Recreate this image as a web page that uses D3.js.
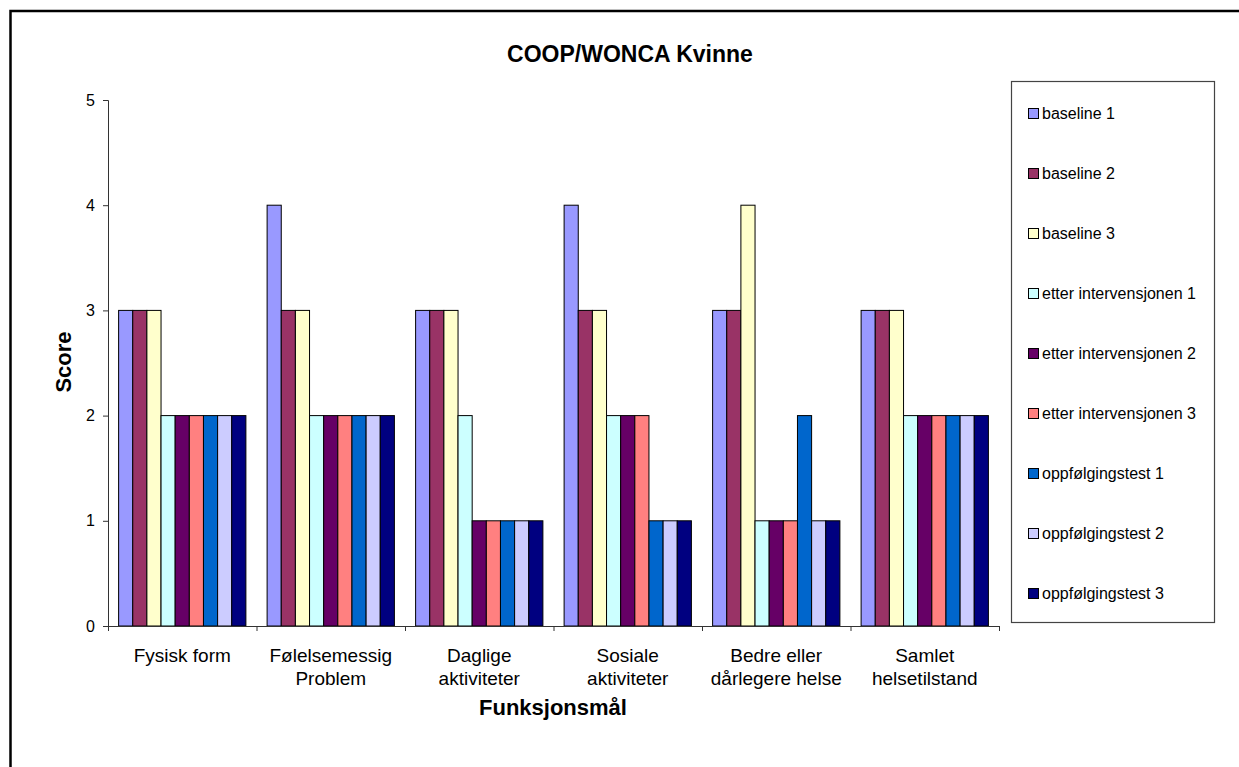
<!DOCTYPE html>
<html>
<head>
<meta charset="utf-8">
<script src="https://cdn.jsdelivr.net/npm/d3@7"></script>
<style>
  body { margin: 0; background: #fff; }
  text { font-family: Arial, "Liberation Sans", sans-serif; fill: #000; }
</style>
</head>
<body>
<svg width="1239" height="767"></svg>
<script>
// categories (x axis), split on two lines where the chart does
var categories = [
  ["Fysisk form"],
  ["Følelsemessig", "Problem"],
  ["Daglige", "aktiviteter"],
  ["Sosiale", "aktiviteter"],
  ["Bedre eller", "dårlegere helse"],
  ["Samlet", "helsetilstand"]
];

var seriesNames = [
  "baseline 1", "baseline 2", "baseline 3",
  "etter intervensjonen 1", "etter intervensjonen 2", "etter intervensjonen 3",
  "oppfølgingstest 1", "oppfølgingstest 2", "oppfølgingstest 3"
];

// one array per series, one value per category
var baseline1 = [3, 4, 3, 4, 3, 3];
var baseline2 = [3, 3, 3, 3, 3, 3];
var baseline3 = [3, 3, 3, 3, 4, 3];
var etter1    = [2, 2, 2, 2, 1, 2];
var etter2    = [2, 2, 1, 2, 1, 2];
var etter3    = [2, 2, 1, 2, 1, 2];
var oppf1     = [2, 2, 1, 1, 2, 2];
var oppf2     = [2, 2, 1, 1, 1, 2];
var oppf3     = [2, 2, 1, 1, 1, 2];
var seriesValues = [baseline1, baseline2, baseline3, etter1, etter2, etter3, oppf1, oppf2, oppf3];

var colors = ["#9999FF", "#993366", "#FFFFCC", "#CCFFFF", "#660066", "#FF8080", "#0066CC", "#CCCCFF", "#000080"];
var yTicks = [0, 1, 2, 3, 4, 5];

var svg = d3.select("svg");

// outer chart frame (runs off the right and bottom of the picture)
svg.append("rect")
  .attr("x", 10.5).attr("y", 11)
  .attr("width", 1300).attr("height", 800)
  .attr("fill", "none").attr("stroke", "#000").attr("stroke-width", 2.5);

var plot = {left: 108, right: 999, top: 100, bottom: 626};

var x0 = d3.scaleBand()
  .domain(d3.range(categories.length))
  .range([plot.left, plot.right]);

// excel style gap: 150% of a bar, half on each side of the group
var x1 = d3.scaleBand()
  .domain(d3.range(seriesNames.length))
  .range([0, x0.bandwidth()])
  .paddingInner(0)
  .paddingOuter(0.75);

var y = d3.scaleLinear().domain([0, 5]).range([plot.bottom, plot.top]);

// bars
var groups = svg.append("g").selectAll("g")
  .data(categories)
  .join("g")
  .attr("transform", function(d, i) { return "translate(" + x0(i) + ",0)"; });

groups.selectAll("rect")
  .data(function(d, i) { return seriesValues.map(function(s, k) { return {k: k, v: s[i]}; }); })
  .join("rect")
  .attr("x", function(d) { return x1(d.k); })
  .attr("y", function(d) { return y(d.v); })
  .attr("width", x1.bandwidth())
  .attr("height", function(d) { return y(0) - y(d.v); })
  .attr("fill", function(d) { return colors[d.k]; })
  .attr("stroke", "#000")
  .attr("stroke-width", 1);

// y axis
var yAxis = svg.append("g")
  .attr("transform", "translate(" + plot.left + ",0)")
  .call(d3.axisLeft(y).tickValues(yTicks).tickFormat(d3.format("d")).tickSize(5).tickPadding(8));
yAxis.selectAll("text").style("font-size", "16px").attr("font-family", "Arial, 'Liberation Sans', sans-serif");
yAxis.selectAll("line, path").attr("stroke", "#333");

// x axis, ticks sit between categories
var xEdges = d3.scaleLinear().domain([0, categories.length]).range([plot.left, plot.right]);
var xAxis = svg.append("g")
  .attr("transform", "translate(0," + plot.bottom + ")")
  .call(d3.axisBottom(xEdges).tickValues(d3.range(categories.length + 1)).tickFormat("").tickSize(5).tickSizeOuter(5));
xAxis.selectAll("line, path").attr("stroke", "#333");

// category labels
svg.append("g").selectAll("text")
  .data(categories)
  .join("text")
  .attr("text-anchor", "middle")
  .style("font-size", "19px")
  .attr("x", function(d, i) { return x0(i) + x0.bandwidth() / 2; })
  .attr("y", 662)
  .selectAll("tspan")
  .data(function(d) { return d; })
  .join("tspan")
  .attr("x", function() { return d3.select(this.parentNode).attr("x"); })
  .attr("dy", function(d, i) { return i === 0 ? 0 : 23; })
  .text(function(d) { return d; });

// titles
svg.append("text")
  .attr("x", 630).attr("y", 62)
  .attr("text-anchor", "middle")
  .style("font-size", "23px").style("font-weight", "bold")
  .text("COOP/WONCA Kvinne");

svg.append("text")
  .attr("x", 553).attr("y", 715)
  .attr("text-anchor", "middle")
  .style("font-size", "22px").style("font-weight", "bold")
  .text("Funksjonsmål");

svg.append("text")
  .attr("transform", "translate(71,362) rotate(-90)")
  .attr("text-anchor", "middle")
  .style("font-size", "22px").style("font-weight", "bold")
  .text("Score");

// legend
var legend = svg.append("g");
legend.append("rect")
  .attr("x", 1011.5).attr("y", 81.5)
  .attr("width", 203).attr("height", 541)
  .attr("fill", "#fff").attr("stroke", "#444").attr("stroke-width", 1.2);

var items = legend.selectAll("g.item")
  .data(seriesNames)
  .join("g")
  .attr("class", "item")
  .attr("transform", function(d, i) { return "translate(1028," + (108 + i * 60) + ")"; });

items.append("rect")
  .attr("x", 0.5).attr("y", 0.5)
  .attr("width", 10).attr("height", 10)
  .attr("fill", function(d, i) { return colors[i]; })
  .attr("stroke", "#000");

items.append("text")
  .attr("x", 14).attr("y", 11)
  .style("font-size", "16px")
  .text(function(d) { return d; });
</script>
</body>
</html>
